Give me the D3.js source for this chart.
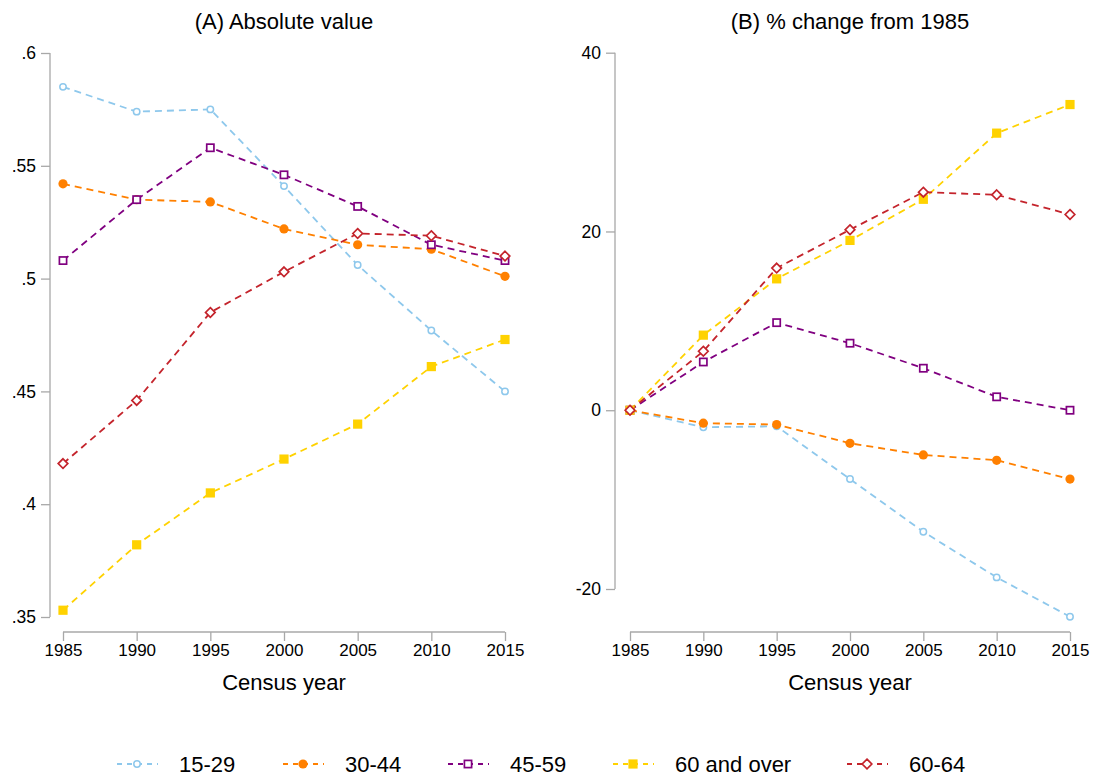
<!DOCTYPE html>
<html><head><meta charset="utf-8">
<script src="https://cdn.jsdelivr.net/npm/d3@7"></script>
<style>body{margin:0;background:#fff}svg{font-family:"Liberation Sans",Arial,Helvetica,sans-serif}</style>
</head><body><svg id="c" width="1094" height="781"></svg>
<script>
const years = [1985, 1990, 1995, 2000, 2005, 2010, 2015];
const seriesNames = ["15-29", "30-44", "45-59", "60 and over", "60-64"];
const absolute_15_29 = [0.585, 0.574, 0.575, 0.541, 0.506, 0.477, 0.450];
const absolute_30_44 = [0.542, 0.535, 0.534, 0.522, 0.515, 0.513, 0.501];
const absolute_45_59 = [0.508, 0.535, 0.558, 0.546, 0.532, 0.515, 0.508];
const absolute_60plus = [0.353, 0.382, 0.405, 0.420, 0.4355, 0.461, 0.473];
const absolute_60_64 = [0.418, 0.446, 0.485, 0.503, 0.520, 0.519, 0.510];
const change_15_29 = [0, -1.9, -1.8, -7.7, -13.6, -18.7, -23.1];
const change_30_44 = [0, -1.45, -1.6, -3.7, -5.0, -5.6, -7.7];
const change_45_59 = [0, 5.4, 9.8, 7.5, 4.7, 1.5, 0];
const change_60plus = [0, 8.4, 14.7, 19.0, 23.6, 31.0, 34.2];
const change_60_64 = [0, 6.6, 15.9, 20.2, 24.4, 24.1, 21.9];
const leftTicks = [0.35, 0.4, 0.45, 0.5, 0.55, 0.6];
const leftTickLabels = [".35", ".4", ".45", ".5", ".55", ".6"];
const rightTicks = [-20, 0, 20, 40];
const rightTickLabels = ["-20", "0", "20", "40"];
const titles = ["(A) Absolute value", "(B) % change from 1985"];
const xTitle = "Census year";

const absolute = [absolute_15_29, absolute_30_44, absolute_45_59, absolute_60plus, absolute_60_64];
const change = [change_15_29, change_30_44, change_45_59, change_60plus, change_60_64];
const colors = ["#8ec8ec", "#ff8000", "#800080", "#ffd200", "#c4242c"];
const markers = ["hcircle", "circle", "hsquare", "square", "hdiamond"];

const svg = d3.select("#c");
const axisColor = "#a8a8a8";

function drawMarker(g, type, x, y, color) {
  if (type === "hcircle") g.append("circle").attr("cx", x).attr("cy", y).attr("r", 3.2).attr("fill", "#fff").attr("stroke", color).attr("stroke-width", 1.5);
  else if (type === "circle") g.append("circle").attr("cx", x).attr("cy", y).attr("r", 4.6).attr("fill", color);
  else if (type === "hsquare") g.append("rect").attr("x", x - 3.6).attr("y", y - 3.6).attr("width", 7.2).attr("height", 7.2).attr("fill", "#fff").attr("stroke", color).attr("stroke-width", 1.7);
  else if (type === "square") g.append("rect").attr("x", x - 4.6).attr("y", y - 4.6).attr("width", 9.2).attr("height", 9.2).attr("fill", color);
  else if (type === "hdiamond") g.append("path").attr("d", `M${x},${y-4.8}L${x+4.8},${y}L${x},${y+4.8}L${x-4.8},${y}Z`).attr("fill", "#fff").attr("stroke", color).attr("stroke-width", 1.7);
}

function panel(cfg) {
  const g = svg.append("g");
  const x = d3.scaleLinear().domain([1985, 2015]).range([cfg.x0, cfg.x1]);
  const y = d3.scaleLinear().domain(cfg.ydom).range(cfg.yrange);
  const ya = d3.axisLeft(y).tickValues(cfg.ticks).tickSize(9).tickPadding(5)
    .tickFormat((d, i) => cfg.labels[i]);
  const yg = g.append("g").attr("transform", `translate(${cfg.ax},0)`).call(ya);
  yg.select(".domain").attr("stroke", "none");
  yg.append("line").attr("x1", 0).attr("x2", 0).attr("y1", y(cfg.ticks[0])).attr("y2", y(cfg.ticks[cfg.ticks.length-1])).attr("stroke", axisColor).attr("stroke-width", 1.3);
  yg.selectAll(".tick line").attr("stroke", axisColor).attr("stroke-width", 1.3);
  yg.selectAll(".tick text").attr("font-size", 17.5).attr("fill", "#000").attr("font-family", "Liberation Sans, Arial, sans-serif");
  const xa = d3.axisBottom(x).tickValues(years).tickSize(9).tickPadding(4).tickFormat(d3.format("d"));
  const xg = g.append("g").attr("transform", `translate(0,${cfg.xaxY})`).call(xa);
  xg.select(".domain").remove();
  xg.selectAll(".tick line").attr("y1", 0).attr("y2", -9).attr("stroke", axisColor).attr("stroke-width", 1.3);
  xg.append("line").attr("x1", x(1985)).attr("x2", x(2015)).attr("y1", -9).attr("y2", -9).attr("stroke", axisColor).attr("stroke-width", 1.3);
  xg.selectAll(".tick text").attr("font-size", 17).attr("fill", "#000").attr("font-family", "Liberation Sans, Arial, sans-serif").attr("dy", "0.71em").attr("y", 3);
  g.append("text").attr("x", (x(1985) + x(2015)) / 2).attr("y", 690).attr("text-anchor", "middle").attr("font-size", 22).text(xTitle);
  g.append("text").attr("x", (x(1985) + x(2015)) / 2).attr("y", 29).attr("text-anchor", "middle").attr("font-size", 22).text(cfg.title);
  cfg.data.forEach((vals, si) => {
    const line = d3.line().x((d, i) => x(years[i])).y(d => y(d));
    g.append("path").attr("d", line(vals)).attr("fill", "none").attr("stroke", colors[si]).attr("stroke-width", 1.8).attr("stroke-dasharray", "7,5");
  });
  cfg.data.forEach((vals, si) => {
    vals.forEach((v, i) => drawMarker(g, markers[si], x(years[i]), y(v), colors[si]));
  });
}

panel({x0: 63, x1: 505, ax: 50, xaxY: 641, ydom: [0.35, 0.6], yrange: [617, 53], ticks: leftTicks, labels: leftTickLabels, title: titles[0], data: absolute});
panel({x0: 630, x1: 1070, ax: 615, xaxY: 641, ydom: [-20, 40], yrange: [589, 52.7], ticks: rightTicks, labels: rightTickLabels, title: titles[1], data: change});

const legX = [137, 303, 468, 633, 867];
const lg = svg.append("g");
seriesNames.forEach((n, i) => {
  const cx = legX[i], cy = 764;
  lg.append("line").attr("x1", cx - 21).attr("x2", cx + 21).attr("y1", cy).attr("y2", cy).attr("stroke", colors[i]).attr("stroke-width", 1.8).attr("stroke-dasharray", "5,5").attr("stroke-dashoffset", -1);
  drawMarker(lg, markers[i], cx, cy, colors[i]);
  lg.append("text").attr("x", cx + 42).attr("y", cy + 8).attr("font-size", 22).text(n);
});
</script></body></html>
